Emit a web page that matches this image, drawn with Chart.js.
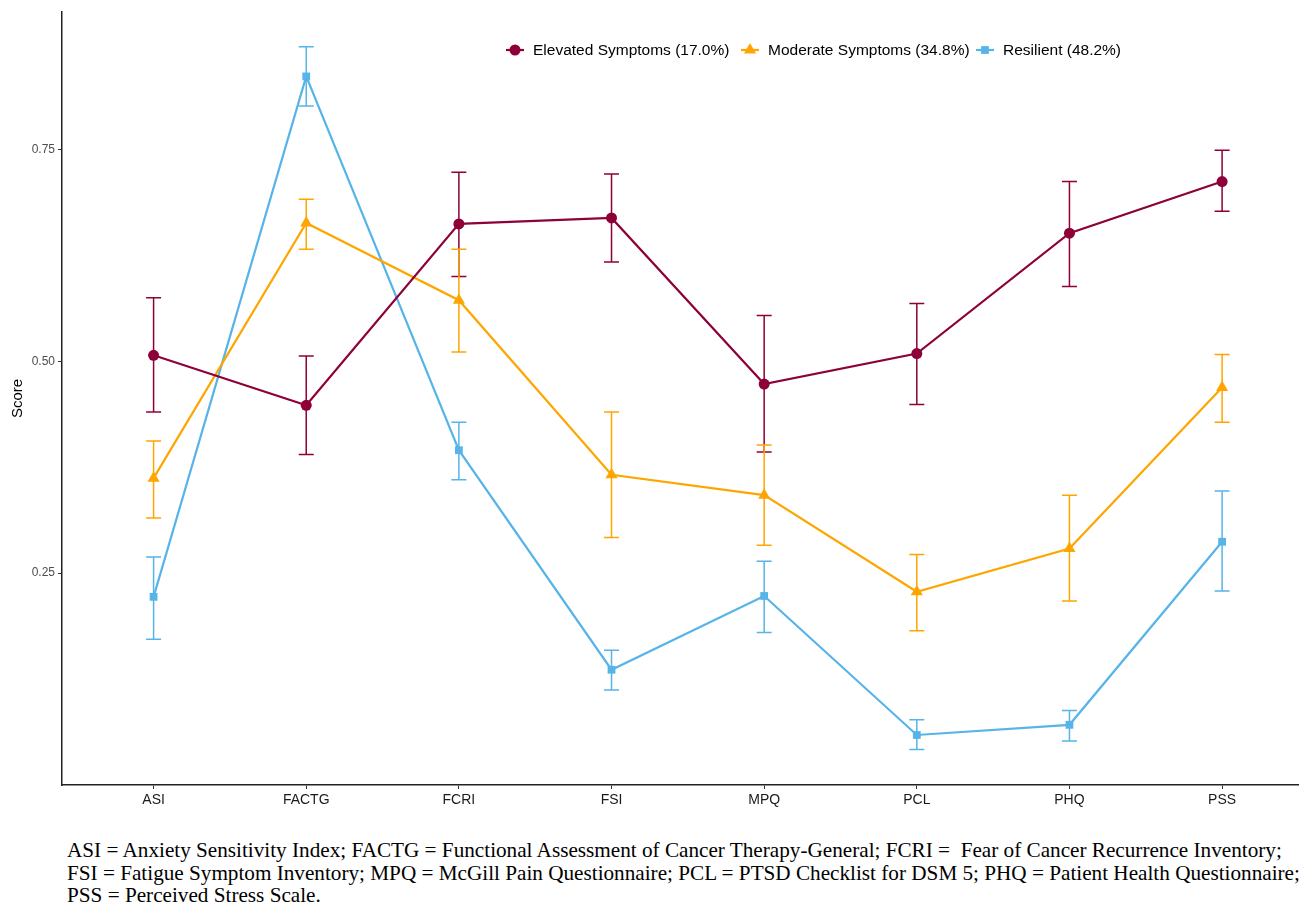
<!DOCTYPE html>
<html>
<head>
<meta charset="utf-8">
<script src="https://cdn.jsdelivr.net/npm/chart.js@4.4.0/dist/chart.umd.min.js"></script>
<style>
  body { margin: 0; background: #fff; width: 1299px; height: 904px; overflow: hidden; }
  #wrap { position: absolute; left: 0; top: 0; width: 1299px; height: 815px; overflow: hidden; }
  #note {
    position: absolute; left: 67px; top: 839px; width: 1240px;
    font-family: "Liberation Serif", "Times New Roman", serif; font-size: 21.2px;
    line-height: 22.5px; color: #000; white-space: nowrap; overflow: hidden;
  }
</style>
</head>
<body>
<div id="wrap"><canvas id="chart" width="1310" height="815"></canvas></div>
<div id="note">
  ASI = Anxiety Sensitivity Index; FACTG = Functional Assessment of Cancer Therapy-General; FCRI = &nbsp;Fear of Cancer Recurrence Inventory;<br>
  FSI = Fatigue Symptom Inventory; MPQ = McGill Pain Questionnaire; PCL = PTSD Checklist for DSM 5; PHQ = Patient Health Questionnaire;<br>
  PSS = Perceived Stress Scale.
</div>
<script>
const measures = ['ASI', 'FACTG', 'FCRI', 'FSI', 'MPQ', 'PCL', 'PHQ', 'PSS'];
const yTicks = [0.25, 0.50, 0.75];

const elevated      = [0.507, 0.448, 0.662, 0.669, 0.473, 0.509, 0.651, 0.712];
const elevatedLow   = [0.440, 0.390, 0.600, 0.617, 0.393, 0.449, 0.588, 0.677];
const elevatedHigh  = [0.575, 0.506, 0.723, 0.721, 0.554, 0.568, 0.712, 0.749];

const moderate      = [0.362, 0.663, 0.572, 0.366, 0.342, 0.228, 0.279, 0.469];
const moderateLow   = [0.315, 0.632, 0.511, 0.292, 0.283, 0.182, 0.217, 0.428];
const moderateHigh  = [0.406, 0.691, 0.632, 0.440, 0.401, 0.272, 0.342, 0.508];

const resilient     = [0.222, 0.836, 0.395, 0.136, 0.223, 0.059, 0.071, 0.287];
const resilientLow  = [0.172, 0.801, 0.360, 0.112, 0.180, 0.042, 0.052, 0.229];
const resilientHigh = [0.269, 0.871, 0.428, 0.159, 0.264, 0.077, 0.088, 0.347];

const RED = '#8e0038', ORANGE = '#ffa500', BLUE = '#56b4e9';

function toPoints(vals) {
  return vals.map((v, i) => ({ x: i, y: v }));
}

function makeSet(label, vals, low, high, color, shape, radius) {
  return {
    label,
    data: toPoints(vals),
    low, high,
    borderColor: color,
    backgroundColor: color,
    borderWidth: 2.2,
    pointStyle: shape,
    pointRadius: radius,
    pointHoverRadius: radius,
    pointBorderWidth: 0,
    tension: 0
  };
}

// error bars drawn from the dataset low/high arrays
const errorBars = {
  id: 'errorBars',
  beforeDatasetsDraw(chart) {
    const ctx = chart.ctx;
    const xs = chart.scales.x, ys = chart.scales.y;
    chart.data.datasets.forEach(ds => {
      ctx.save();
      ctx.strokeStyle = ds.borderColor;
      ctx.lineWidth = 1.5;
      ds.low.forEach((lo, i) => {
        const px = xs.getPixelForValue(i);
        const y1 = ys.getPixelForValue(lo);
        const y2 = ys.getPixelForValue(ds.high[i]);
        ctx.beginPath();
        ctx.moveTo(px, y1); ctx.lineTo(px, y2);
        ctx.moveTo(px - 7.5, y1); ctx.lineTo(px + 7.5, y1);
        ctx.moveTo(px - 7.5, y2); ctx.lineTo(px + 7.5, y2);
        ctx.stroke();
      });
      ctx.restore();
    });
  }
};

// legend inside the plot, ggplot style
const topLegend = {
  id: 'topLegend',
  afterDraw(chart) {
    const ctx = chart.ctx;
    const items = [
      { ds: 0, key: 515, text: 533 },
      { ds: 1, key: 750, text: 768 },
      { ds: 2, key: 985, text: 1003 }
    ];
    const y = 50;
    ctx.save();
    ctx.font = '15.5px "Liberation Sans", Arial, sans-serif';
    ctx.textBaseline = 'middle';
    items.forEach(it => {
      const ds = chart.data.datasets[it.ds];
      ctx.strokeStyle = ds.borderColor;
      ctx.lineWidth = 2.2;
      ctx.beginPath();
      ctx.moveTo(it.key - 9, y); ctx.lineTo(it.key + 9, y);
      ctx.stroke();
      ctx.fillStyle = ds.backgroundColor;
      Chart.helpers.drawPoint(ctx, { pointStyle: ds.pointStyle, radius: ds.pointRadius, rotation: 0, borderWidth: 0 }, it.key, y);
      ctx.fillStyle = '#000';
      ctx.fillText(ds.label, it.text, y + 1);
    });
    ctx.restore();
  }
};

new Chart(document.getElementById('chart'), {
  type: 'line',
  data: {
    datasets: [
      makeSet('Elevated Symptoms (17.0%)', elevated, elevatedLow, elevatedHigh, RED, 'circle', 5.5),
      makeSet('Moderate Symptoms (34.8%)', moderate, moderateLow, moderateHigh, ORANGE, 'triangle', 7),
      makeSet('Resilient (48.2%)', resilient, resilientLow, resilientHigh, BLUE, 'rect', 5.5)
    ]
  },
  options: {
    responsive: false,
    animation: false,
    layout: { padding: { top: 12, right: 0, left: 0, bottom: 0 } },
    plugins: { legend: { display: false }, tooltip: { enabled: false } },
    scales: {
      x: {
        type: 'linear',
        min: -0.6,
        max: 7.53,
        afterBuildTicks: s => { s.ticks = measures.map((m, i) => ({ value: i })); },
        afterFit: s => { s.height = 30; },
        ticks: {
          autoSkip: false,
          maxRotation: 0,
          padding: 3,
          color: '#1a1a1a',
          font: { family: '"Liberation Sans", Arial, sans-serif', size: 14 },
          callback: v => measures[v]
        },
        grid: { drawOnChartArea: false, drawTicks: true, tickLength: 4, color: '#333' },
        border: { display: true, color: '#222', width: 1.5 }
      },
      y: {
        min: 0,
        max: 0.912,
        afterBuildTicks: s => { s.ticks = yTicks.map(v => ({ value: v })); },
        afterFit: s => { s.width = 62; },
        title: {
          display: true, text: 'Score', color: '#000', padding: { top: 9, bottom: 4 },
          font: { family: '"Liberation Sans", Arial, sans-serif', size: 15 }
        },
        ticks: {
          padding: 3,
          color: '#4d4d4d',
          font: { family: '"Liberation Sans", Arial, sans-serif', size: 12 },
          callback: v => v.toFixed(2)
        },
        grid: { drawOnChartArea: false, drawTicks: true, tickLength: 4, color: '#333' },
        border: { display: true, color: '#222', width: 1.5 }
      }
    }
  },
  plugins: [errorBars, topLegend]
});
</script>
</body>
</html>
